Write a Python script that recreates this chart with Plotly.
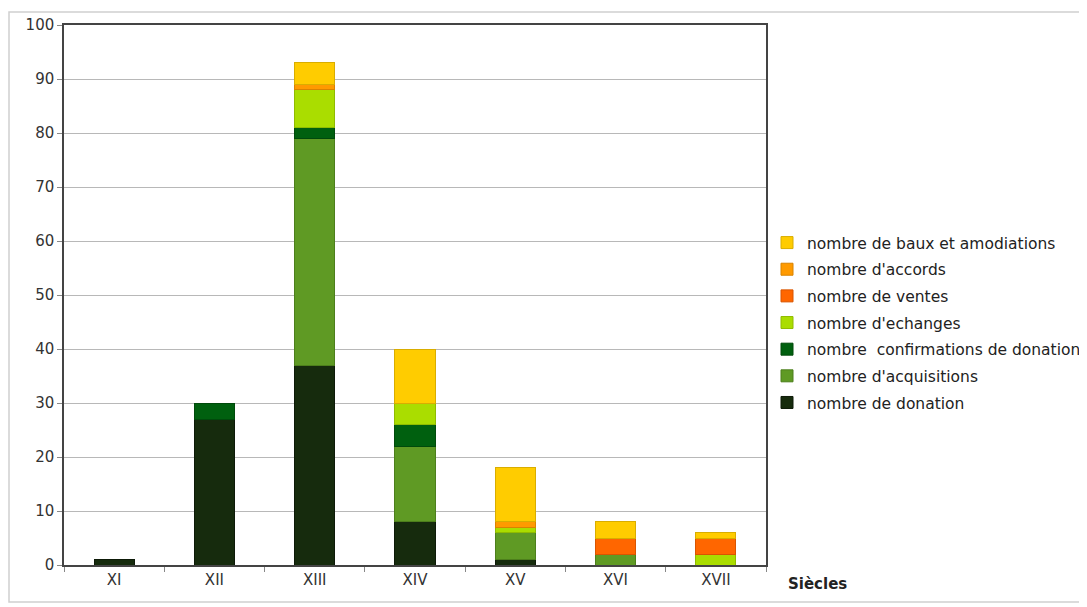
import plotly.graph_objects as go

categories = ["XI", "XII", "XIII", "XIV", "XV", "XVI", "XVII"]

donation = [1, 27, 37, 8, 1, 0, 0]
acquisitions = [0, 0, 42, 14, 5, 2, 0]
confirmations = [0, 3, 2, 4, 0, 0, 0]
echanges = [0, 0, 7, 4, 1, 0, 2]
ventes = [0, 0, 0, 0, 0, 3, 3]
accords = [0, 0, 1, 0, 1, 0, 0]
baux = [0, 0, 4, 10, 10, 3, 1]

series = [
    ("nombre de donation", donation, "#162b0d", "#0d1a08"),
    ("nombre d'acquisitions", acquisitions, "#5f9a24", "#4d7f1c"),
    ("nombre  confirmations de donation", confirmations, "#00600f", "#004a0b"),
    ("nombre d'echanges", echanges, "#aadd00", "#90bb00"),
    ("nombre de ventes", ventes, "#ff6600", "#d95500"),
    ("nombre d'accords", accords, "#ff9a00", "#d98300"),
    ("nombre de baux et amodiations", baux, "#ffcc00", "#d9ad00"),
]

fig = go.Figure()
n = len(series)
for i, (name, vals, col, lcol) in enumerate(series):
    fig.add_trace(go.Bar(
        x=categories, y=[v if v else None for v in vals], name=name,
        marker=dict(color=col, line=dict(color=lcol, width=1)),
        legendgroup=str(i), legendrank=n - i,
    ))

font_family = "DejaVu Sans, Verdana, sans-serif"

# page has 8px body margin: figure origin sits at (8, 8)
W, H = 1079, 599
L, T = 56, 17
R_EDGE, B_EDGE = 758, 557
PW = R_EDGE - L
PH = B_EDGE - T

def px_x(x):
    return (x - 8 - L) / PW

def px_y(y):
    return (B_EDGE - (y - 8)) / PH

fig.update_layout(
    barmode="stack",
    bargap=0.6,
    width=W, height=H,
    autosize=False,
    margin=dict(l=L, r=W - R_EDGE, t=T, b=H - B_EDGE, autoexpand=False),
    paper_bgcolor="#ffffff",
    plot_bgcolor="#ffffff",
    font=dict(family=font_family, size=15, color="#333333"),
    showlegend=True,
    legend=dict(
        xref="container", yref="container",
        x=(767 - 8) / W, xanchor="left", y=1 - (323 - 8) / H, yanchor="middle",
        traceorder="grouped", tracegroupgap=3.5, itemwidth=30,
        font=dict(size=15.5, color="#222222"),
        bgcolor="rgba(0,0,0,0)",
    ),
    xaxis=dict(
        automargin=False,
        showline=True, linecolor="#444444", linewidth=1.5, mirror=True,
        ticks="outside", tickson="boundaries", ticklen=5, tickcolor="#888888",
        showgrid=False, tickfont=dict(size=15, color="#333333"),
    ),
    yaxis=dict(
        automargin=False,
        range=[0, 100], dtick=10,
        showline=True, linecolor="#444444", linewidth=1.5, mirror=True,
        ticks="outside", ticklen=5, tickcolor="#888888",
        showgrid=True, gridcolor="#b8b8b8", gridwidth=1,
        zeroline=False, tickfont=dict(size=15, color="#333333"),
    ),
    annotations=[dict(
        text="<b>Siècles</b>", x=px_x(786), y=px_y(584),
        xref="paper", yref="paper", xanchor="left", yanchor="middle",
        showarrow=False, font=dict(size=15, color="#222222"),
    )],
    shapes=[dict(
        type="rect", xref="paper", yref="paper",
        x0=px_x(9), x1=px_x(1083),
        y0=px_y(602), y1=px_y(12),
        line=dict(color="#d0d0d0", width=1.5), layer="below",
    )],
)

fig.write_html("out.html")
